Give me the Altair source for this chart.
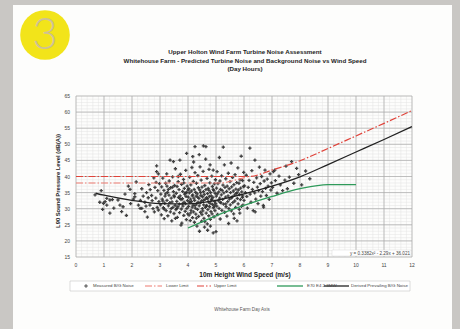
import altair as alt
import pandas as pd

# ---------------------------------------------------------------------------
# Data
# ---------------------------------------------------------------------------
# Measured background noise: (10 m wind speed [m/s], L90 [dB(A)])
measured = [
    (0.68, 34.3), (0.85, 32.0), (0.95, 29.8), (0.98, 31.7), (0.90, 35.6),
    (1.04, 32.2), (1.10, 31.1), (1.10, 33.2), (1.21, 32.7), (1.21, 28.6), (1.30, 32.8),
    (1.35, 30.2), (1.50, 32.7), (1.57, 31.1), (1.63, 29.1), (1.68, 30.6), (1.75, 34.5),
    (1.80, 27.9), (1.87, 37.0), (1.93, 36.0), (1.95, 31.6),
    (2.05, 33.0), (2.10, 34.7), (2.10, 33.7), (2.15, 38.3), (2.23, 31.1), (2.29, 30.1),
    (2.35, 36.2), (2.35, 30.1), (2.40, 33.9), (2.46, 32.0), (2.46, 29.1), (2.52, 35.0),
    (2.55, 27.4), (2.60, 37.5), (2.64, 31.1), (2.70, 34.1), (2.72, 32.5), (2.78, 39.6),
    (2.80, 29.0), (2.82, 36.6), (2.85, 33.3), (2.88, 41.5), (2.88, 43.3), (2.90, 30.4),
    (2.92, 35.6), (2.94, 29.6), (2.94, 40.8), (2.96, 32.2), (2.98, 37.8), (2.50, 30.8),
    (2.65, 35.9), (2.30, 32.6), (2.75, 30.0), (2.58, 33.4), (2.86, 38.2),
    (3.02, 31.2), (3.03, 34.5), (3.05, 28.1), (3.06, 36.8), (3.08, 33.0), (3.10, 39.5),
    (3.12, 30.3), (3.14, 35.7), (3.15, 26.9), (3.17, 31.7), (3.18, 33.9), (3.20, 37.9),
    (3.22, 29.4), (3.24, 40.8), (3.25, 32.6), (3.27, 35.1), (3.28, 27.8), (3.30, 30.9),
    (3.32, 34.2), (3.33, 38.6), (3.35, 31.9), (3.36, 45.1), (3.37, 29.0), (3.38, 36.5),
    (3.40, 33.3), (3.42, 26.2), (3.43, 32.1), (3.45, 39.9), (3.46, 30.4), (3.48, 44.6),
    (3.48, 35.3), (3.50, 28.5), (3.51, 33.7), (3.52, 37.2), (3.54, 31.0), (3.55, 42.4),
    (3.57, 29.7), (3.58, 34.8), (3.60, 32.3), (3.61, 36.9), (3.62, 27.3), (3.64, 30.6),
    (3.65, 38.4), (3.66, 33.5), (3.68, 35.9), (3.69, 31.4), (3.70, 28.8), (3.71, 45.1),
    (3.72, 34.0), (3.73, 40.7), (3.75, 32.8), (3.76, 29.9), (3.77, 37.6), (3.78, 25.5),
    (3.80, 33.1), (3.81, 35.4), (3.82, 30.8), (3.84, 39.1), (3.85, 27.9), (3.86, 32.0),
    (3.87, 36.3), (3.88, 34.5), (3.90, 29.2), (3.91, 31.6), (3.92, 41.9), (3.93, 33.8),
    (3.94, 26.6), (3.95, 47.2), (3.95, 35.0), (3.96, 30.1), (3.97, 37.0), (3.98, 32.5),
    (3.99, 28.4), (3.10, 32.4), (3.20, 34.6), (3.30, 36.0), (3.40, 30.0), (3.50, 34.1),
    (3.60, 30.1), (3.70, 33.2), (3.80, 31.5), (3.90, 34.9), (3.45, 36.7), (3.55, 27.0),
    (3.65, 40.0), (3.75, 24.9), (3.85, 38.0), (3.15, 29.9), (3.25, 37.0),
    (4.01, 33.6), (4.02, 30.7), (4.03, 36.2), (4.04, 28.0), (4.05, 34.9), (4.06, 39.8),
    (4.07, 31.9), (4.08, 26.3), (4.09, 33.0), (4.10, 37.4), (4.11, 29.5), (4.12, 35.5),
    (4.13, 32.2), (4.14, 42.8), (4.15, 30.5), (4.16, 27.2), (4.17, 46.2), (4.17, 34.3),
    (4.18, 31.1), (4.19, 38.5), (4.20, 29.0), (4.21, 33.3), (4.22, 36.0), (4.23, 25.8),
    (4.24, 32.6), (4.25, 49.3), (4.25, 41.2), (4.26, 30.2), (4.27, 35.1), (4.28, 28.3),
    (4.29, 33.9), (4.30, 37.9), (4.31, 31.5), (4.32, 24.6), (4.33, 34.6), (4.34, 29.8),
    (4.35, 40.3), (4.36, 32.0), (4.37, 36.5), (4.38, 27.6), (4.39, 33.2), (4.40, 30.9),
    (4.41, 23.0), (4.42, 35.8), (4.43, 43.0), (4.44, 31.8), (4.45, 28.9), (4.46, 34.1),
    (4.47, 38.9), (4.48, 32.4), (4.49, 26.1), (4.50, 36.7), (4.51, 30.0), (4.52, 33.7),
    (4.53, 29.3), (4.54, 41.6), (4.55, 49.5), (4.55, 35.3), (4.56, 31.2), (4.57, 27.0),
    (4.58, 34.4), (4.59, 24.3), (4.60, 37.2), (4.61, 32.9), (4.62, 30.4), (4.63, 45.4),
    (4.64, 49.3), (4.64, 35.9), (4.65, 28.6), (4.66, 33.4), (4.67, 31.0), (4.68, 39.4),
    (4.69, 25.3), (4.70, 23.3), (4.70, 34.7), (4.71, 29.7), (4.72, 36.3), (4.73, 32.1),
    (4.74, 27.8), (4.75, 42.2), (4.76, 33.8), (4.77, 30.6), (4.78, 38.0), (4.79, 43.6),
    (4.79, 31.7), (4.80, 26.7), (4.81, 35.0), (4.82, 29.1), (4.83, 34.0), (4.84, 32.7),
    (4.85, 40.1), (4.86, 28.4), (4.87, 36.9), (4.88, 31.3), (4.89, 33.5), (4.90, 42.0),
    (4.90, 22.5), (4.91, 30.3), (4.92, 35.6), (4.93, 27.5), (4.94, 37.7), (4.95, 32.3),
    (4.96, 29.4), (4.97, 34.8), (4.98, 39.0), (4.99, 31.6), (4.05, 32.1), (4.15, 34.0),
    (4.25, 31.0), (4.35, 33.6), (4.45, 35.0), (4.55, 32.6), (4.65, 30.8), (4.75, 35.7),
    (4.85, 33.0), (4.95, 30.9), (4.10, 28.7), (4.30, 27.1), (4.50, 28.2), (4.70, 33.1),
    (4.90, 36.0), (4.20, 44.5), (4.40, 46.8), (4.60, 26.0), (4.80, 24.6), (4.00, 35.8),
    (5.00, 22.9), (5.01, 33.9), (5.02, 36.4), (5.03, 30.8), (5.04, 41.5), (5.05, 34.6),
    (5.06, 28.2), (5.07, 37.8), (5.08, 32.5), (5.10, 35.2), (5.11, 30.1), (5.12, 45.9),
    (5.13, 33.3), (5.14, 38.6), (5.15, 26.8), (5.16, 36.0), (5.18, 31.8), (5.19, 34.3),
    (5.20, 40.2), (5.21, 29.5), (5.22, 35.7), (5.24, 32.9), (5.25, 37.3), (5.26, 49.1),
    (5.27, 31.4), (5.28, 34.9), (5.30, 43.6), (5.31, 28.9), (5.32, 36.6), (5.34, 33.6),
    (5.35, 39.3), (5.36, 30.6), (5.38, 35.4), (5.39, 27.7), (5.40, 37.0), (5.42, 32.2),
    (5.43, 34.0), (5.44, 41.0), (5.46, 30.0), (5.47, 36.2), (5.48, 33.0), (5.50, 38.4),
    (5.51, 31.2), (5.52, 35.0), (5.54, 44.2), (5.55, 29.3), (5.56, 36.8), (5.58, 33.7),
    (5.59, 39.7), (5.60, 31.9), (5.62, 35.5), (5.63, 28.4), (5.64, 37.5), (5.66, 34.2),
    (5.67, 32.4), (5.68, 40.6), (5.70, 30.4), (5.71, 36.1), (5.72, 34.7), (5.74, 38.1),
    (5.75, 26.2), (5.76, 33.2), (5.78, 42.7), (5.79, 31.5), (5.80, 35.8), (5.82, 37.9),
    (5.83, 29.8), (5.84, 34.4), (5.86, 39.0), (5.87, 32.8), (5.88, 36.4), (5.90, 46.3),
    (5.91, 30.7), (5.92, 35.2), (5.94, 33.5), (5.95, 38.7), (5.96, 31.1), (5.98, 36.9),
    (5.99, 41.3), (5.15, 32.0), (5.35, 31.5), (5.55, 33.4), (5.75, 35.0), (5.95, 34.0),
    (5.45, 25.4), (5.65, 27.0), (5.85, 28.6),
    (6.00, 32.6), (6.02, 37.1), (6.05, 35.0), (6.08, 40.4), (6.10, 33.8), (6.12, 30.2),
    (6.15, 36.6), (6.18, 38.8), (6.21, 48.8), (6.22, 34.5), (6.25, 32.0), (6.28, 41.8),
    (6.30, 36.0), (6.33, 29.4), (6.35, 38.2), (6.38, 34.9), (6.39, 45.1), (6.42, 33.0),
    (6.45, 39.6), (6.48, 36.7), (6.50, 31.6), (6.52, 35.6), (6.55, 42.9), (6.58, 37.8),
    (6.60, 33.9), (6.63, 40.0), (6.66, 35.3), (6.69, 31.0), (6.72, 38.6), (6.75, 42.0),
    (6.77, 36.3), (6.80, 34.1), (6.83, 39.2), (6.86, 37.0), (6.90, 32.9), (6.93, 40.8),
    (6.96, 35.8), (6.98, 38.0), (6.40, 29.0), (6.70, 30.5),
    (7.02, 36.6), (7.05, 41.5), (7.10, 42.0), (7.12, 38.7), (7.18, 34.8), (7.25, 40.1),
    (7.30, 37.4), (7.38, 35.6), (7.46, 38.9), (7.50, 43.2), (7.55, 36.2), (7.62, 39.8),
    (7.70, 44.6), (7.78, 37.9), (7.88, 42.5), (7.95, 40.6), (8.06, 37.4), (8.20, 41.7),
    (8.35, 39.3),
]

# Derived prevailing background noise curve
derived_speed = [0.7, 1, 2, 3, 4, 5, 6, 7, 8, 9, 10, 11, 12]
derived_level = [34.8, 34.2, 32.6, 31.6, 31.5, 32.6, 34.6, 37.0, 39.9, 43.7, 47.6, 51.5, 55.5]

# ETSU-R-97 limits
lower_speed = [0, 5.2, 5.5, 6.0, 6.17]
lower_level = [38.0, 38.0, 38.5, 39.6, 40.0]
upper_speed = [0, 6.17, 7, 8, 9, 10, 11, 12]
upper_level = [40.0, 40.0, 42.0, 44.9, 48.7, 52.6, 56.5, 60.5]

# Predicted turbine noise (E70 E4 2.3MW)
turbine_speed = [4, 5, 6, 7, 8, 9, 10]
turbine_level = [24.0, 27.8, 31.0, 33.8, 36.2, 37.5, 37.5]

formula = "y = 0.3382x² - 2.29x + 36.021"

title_lines = [
    "Upper Holton Wind Farm Turbine Noise Assessment",
    "Whitehouse Farm - Predicted Turbine Noise and Background Noise vs Wind Speed",
    "(Day Hours)",
]
footer = "Whitehouse Farm Day Axis"
x_title = "10m Height Wind Speed (m/s)"
y_title = "L90 Sound Pressure Level (dB(A))"
legend_labels = ["Measured B/G Noise", "Lower Limit", "Upper Limit", "E70 E4 2.3MW",
                 "Derived Prevailing B/G Noise"]

x_ticks = list(range(0, 13))
y_ticks = list(range(15, 66, 5))
x_minor = [i / 5 for i in range(0, 61)]
y_minor = list(range(15, 66))

# ---------------------------------------------------------------------------
# Layout (plot area 336 x 161, placed by padding)
# ---------------------------------------------------------------------------
W, H = 336, 161
PAD = {"left": 76, "top": 96, "right": 48, "bottom": 72}
FONT = "Liberation Sans"

xs = alt.Scale(domain=[0, 12], nice=False, zero=False)
ys = alt.Scale(domain=[15, 65], nice=False, zero=False)

one = pd.DataFrame({"k": [0]})


def label(text, x, y, **mk):
    """A single text item placed in pixel coordinates of the plot area."""
    return alt.Chart(pd.DataFrame({"t": [text]})).mark_text(**mk).encode(
        x=alt.value(x), y=alt.value(y), text="t:N"
    )


# Page sheet behind the chart
page = alt.Chart(one).mark_rect(color="#fdfdfc").encode(
    x=alt.value(-63), x2=alt.value(376), y=alt.value(-91), y2=alt.value(240)
)

# Yellow section badge
badge = alt.Chart(one).mark_circle(size=2460, color="#f2e41a", opacity=1).encode(
    x=alt.value(-31), y=alt.value(-61)
)
badge_num = label("3", -31, -60, font="Lato", fontSize=44, fontWeight=300,
                  color="#cdc196", baseline="middle", align="center")

# Grid
minor_x = alt.Chart(pd.DataFrame({"v": x_minor})).mark_rule(color="#e3e3e3", strokeWidth=0.5).encode(
    x=alt.X("v:Q", scale=xs)
)
minor_y = alt.Chart(pd.DataFrame({"v": y_minor})).mark_rule(color="#e3e3e3", strokeWidth=0.5).encode(
    y=alt.Y("v:Q", scale=ys)
)
major_x = alt.Chart(pd.DataFrame({"v": x_ticks})).mark_rule(color="#a9a9a9", strokeWidth=0.7).encode(
    x=alt.X("v:Q", scale=xs)
)
major_y = alt.Chart(pd.DataFrame({"v": y_ticks})).mark_rule(color="#a9a9a9", strokeWidth=0.7).encode(
    y=alt.Y("v:Q", scale=ys)
)

# Tick labels drawn through the shared scales
x_labels = alt.Chart(pd.DataFrame({"v": x_ticks})).mark_text(
    font=FONT, fontSize=5, color="#444", baseline="middle", align="center"
).encode(x=alt.X("v:Q", scale=xs), y=alt.value(H + 8), text=alt.Text("v:Q", format="d"))
y_labels = alt.Chart(pd.DataFrame({"v": y_ticks})).mark_text(
    font=FONT, fontSize=5, color="#444", baseline="middle", align="right"
).encode(y=alt.Y("v:Q", scale=ys), x=alt.value(-6), text=alt.Text("v:Q", format="d"))

# Measured points
meas_df = pd.DataFrame(measured, columns=["speed", "level"])
scatter = alt.Chart(meas_df).mark_point(
    shape="cross", filled=True, size=11, color="#2e2e2e", opacity=0.9
).encode(
    x=alt.X("speed:Q", scale=xs),
    y=alt.Y("level:Q", scale=ys),
)


def series(xv, yv, **mk):
    df = pd.DataFrame({"speed": xv, "level": yv})
    return alt.Chart(df).mark_line(interpolate="monotone", **mk).encode(
        x=alt.X("speed:Q", scale=xs),
        y=alt.Y("level:Q", scale=ys),
    )


DASHDOT = [7, 2, 1.5, 2]
turbine = series(turbine_speed, turbine_level, color="#2f9a5a", strokeWidth=1.3)
lower = series(lower_speed, lower_level, color="#ee7a70", strokeWidth=1.1, strokeDash=DASHDOT)
upper = series(upper_speed, upper_level, color="#e0433a", strokeWidth=1.2, strokeDash=DASHDOT)
derived = series(derived_speed, derived_level, color="#222222", strokeWidth=1.3)

# Trend-line equation box
eq_box = alt.Chart(one).mark_rect(color="white", stroke="#d0d0d0", strokeWidth=0.4).encode(
    x=alt.value(256), x2=alt.value(335), y=alt.value(154), y2=alt.value(160)
)
eq_text = label(formula, 334, 157.5, font=FONT, fontSize=4.6, color="#444",
                align="right", baseline="middle")

# Titles and captions
TITLE = dict(font=FONT, fontSize=6.2, fontWeight="bold", color="#222", align="center", baseline="middle")
title1 = label(title_lines[0], 169, -44, **TITLE)
title2 = label(title_lines[1], 169, -35, **TITLE)
title3 = label(title_lines[2], 169, -27, **TITLE)
xtitle = label(x_title, 169, 179, font=FONT, fontSize=6.5, fontWeight="bold", color="#222",
               align="center", baseline="middle")
ytitle = label(y_title, -18, 85, font=FONT, fontSize=5.8, fontWeight="bold", color="#222",
               align="center", baseline="middle", angle=270)
footer_t = label(footer, 166, 214, font=FONT, fontSize=4.6, color="#555",
                 align="center", baseline="middle")

# Legend strip
LY = 190
leg_box = alt.Chart(one).mark_rect(color="white", stroke="#b8b8b8", strokeWidth=0.5).encode(
    x=alt.value(-6), x2=alt.value(334), y=alt.value(LY - 5), y2=alt.value(LY + 5)
)
leg_point = alt.Chart(one).mark_point(shape="cross", filled=True, size=11, color="#2e2e2e").encode(
    x=alt.value(10), y=alt.value(LY)
)


def seg(x1, x2, **mk):
    return alt.Chart(one).mark_rule(**mk).encode(
        x=alt.value(x1), x2=alt.value(x2), y=alt.value(LY)
    )


leg_lower = seg(69, 86, color="#ee7a70", strokeWidth=1.1, strokeDash=DASHDOT)
leg_upper = seg(121, 135, color="#e0433a", strokeWidth=1.2, strokeDash=DASHDOT)
leg_turb = seg(201, 227, color="#2f9a5a", strokeWidth=1.3)
leg_der = seg(248, 273, color="#222222", strokeWidth=1.3)

LEG = dict(font=FONT, fontSize=4.4, color="#444", align="left", baseline="middle")
leg_texts = [label(t, xx, LY, **LEG) for t, xx in zip(legend_labels, [17, 90, 138, 231, 275])]

chart = alt.layer(
    page, badge, badge_num,
    minor_x, minor_y, major_x, major_y,
    scatter, turbine, lower, upper, derived,
    x_labels, y_labels,
    eq_box, eq_text, title1, title2, title3, xtitle, ytitle, footer_t,
    leg_box, leg_point, leg_lower, leg_upper, leg_turb, leg_der, *leg_texts,
).encode(
    x=alt.X(axis=None), y=alt.Y(axis=None)
).properties(
    width=W, height=H, padding=PAD, autosize=alt.AutoSizeParams(type="none"),
    background="#c9c7c4",
).configure_view(stroke=None).configure_axis(disable=True)

chart.save("out.html", embed_options={"renderer": "svg", "actions": False})
